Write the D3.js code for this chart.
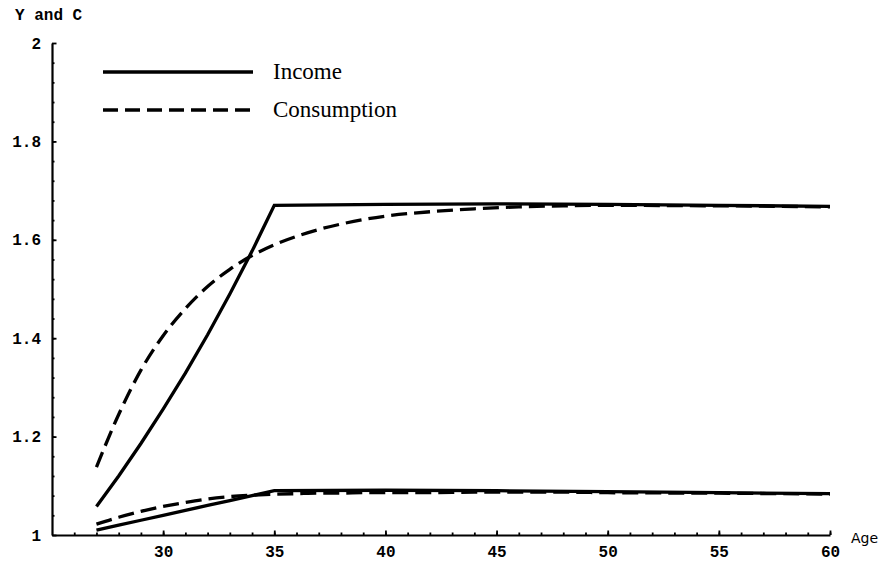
<!DOCTYPE html>
<html>
<head>
<meta charset="utf-8">
<script src="https://cdn.jsdelivr.net/npm/d3@7"></script>
<style>
	body { margin: 0; background: #fff; }
	svg { display: block; }
</style>
</head>
<body>
<div id="chart"></div>
<script>
// ages and values (two households: high and low income)
const incomeAges = [27, 28, 29, 30, 31, 32, 33, 34, 35, 40, 45, 50, 55, 60];
const incomeHigh = [1.058, 1.12, 1.186, 1.256, 1.329, 1.407, 1.49, 1.577, 1.67, 1.672, 1.673, 1.672, 1.67, 1.668];
const incomeLow = [1.01, 1.02, 1.03, 1.04, 1.05, 1.06, 1.07, 1.08, 1.09, 1.091, 1.09, 1.088, 1.086, 1.084];

const consAges = [27, 28, 29, 30, 31, 32, 33, 34, 35, 36, 37, 38, 39, 40, 42, 44, 46, 48, 50, 55, 60];
const consHigh = [1.138, 1.245, 1.335, 1.405, 1.46, 1.505, 1.54, 1.568, 1.59, 1.607, 1.621, 1.632, 1.641, 1.648, 1.657, 1.663, 1.667, 1.669, 1.67, 1.669, 1.667];
const consLow = [1.022, 1.036, 1.048, 1.058, 1.066, 1.073, 1.078, 1.081, 1.083, 1.084, 1.085, 1.085, 1.086, 1.086, 1.086, 1.087, 1.087, 1.087, 1.086, 1.085, 1.083];

const xMajor = [30, 35, 40, 45, 50, 55, 60];
const yMajor = [1, 1.2, 1.4, 1.6, 1.8, 2];
const yLabels = ["1", "1.2", "1.4", "1.6", "1.8", "2"];

const legendNames = ["Income", "Consumption"];

const width = 888;
const height = 562;

const svg = d3
	.select("#chart")
	.append("svg")
	.attr("width", width)
	.attr("height", height);

const x = d3.scaleLinear().domain([25, 60]).range([52, 830]);
const y = d3.scaleLinear().domain([1, 2]).range([535, 43]);

const monoFont = "'Liberation Mono', 'DejaVu Sans Mono', monospace";

// minor ticks first, then major ticks with labels (ticks point inward)
svg.append("g")
	.attr("transform", "translate(0," + y(1) + ")")
	.call(d3.axisBottom(x).tickValues(d3.range(26, 61)).tickSizeInner(-2.5).tickSizeOuter(0).tickFormat(""))
	.call((g) => g.select(".domain").remove());

svg.append("g")
	.attr("transform", "translate(" + x(25) + ",0)")
	.call(d3.axisLeft(y).tickValues(d3.range(1.04, 2, 0.04)).tickSizeInner(-2.5).tickSizeOuter(0).tickFormat(""))
	.call((g) => g.select(".domain").remove());

const xAxis = svg
	.append("g")
	.attr("transform", "translate(0," + y(1) + ")")
	.call(d3.axisBottom(x).tickValues(xMajor).tickSizeInner(-4.5).tickSizeOuter(0).tickPadding(11));

const yAxis = svg
	.append("g")
	.attr("transform", "translate(" + x(25) + ",0)")
	.call(
		d3.axisLeft(y)
			.tickValues(yMajor)
			.tickSizeInner(-4.5)
			.tickSizeOuter(0)
			.tickPadding(11)
			.tickFormat((d, i) => yLabels[i])
	);

svg.selectAll(".domain").attr("stroke-width", 2.2);
svg.selectAll(".tick line").attr("stroke-width", 1.8);
svg.selectAll(".tick text")
	.style("font-family", monoFont)
	.style("font-size", "16px")
	.style("font-weight", "bold")
	.attr("fill", "#000");

// axis titles
svg.append("text")
	.attr("x", 15)
	.attr("y", 20)
	.style("font-family", monoFont)
	.style("font-size", "16px")
	.style("font-weight", "bold")
	.text("Y and C");

svg.append("text")
	.attr("x", 851)
	.attr("y", 543)
	.style("font-family", "'DejaVu Sans', sans-serif")
	.style("font-size", "14px")
	.text("Age");

// the four curves
const solidLine = d3.line().x((d) => x(d[0])).y((d) => y(d[1]));
const dashLine = d3.line().x((d) => x(d[0])).y((d) => y(d[1])).curve(d3.curveMonotoneX);

const curves = [
	{ path: solidLine(d3.zip(incomeAges, incomeHigh)), dash: null },
	{ path: solidLine(d3.zip(incomeAges, incomeLow)), dash: null },
	{ path: dashLine(d3.zip(consAges, consHigh)), dash: "16,7" },
	{ path: dashLine(d3.zip(consAges, consLow)), dash: "16,7" },
];

svg.selectAll(".curve")
	.data(curves)
	.enter()
	.append("path")
	.attr("class", "curve")
	.attr("d", (d) => d.path)
	.attr("fill", "none")
	.attr("stroke", "#000")
	.attr("stroke-width", 3.3)
	.attr("stroke-dasharray", (d) => d.dash);

// legend
const legend = svg.append("g").attr("transform", "translate(103, 72)");

legend
	.selectAll("line")
	.data(legendNames)
	.enter()
	.append("line")
	.attr("x1", 0)
	.attr("x2", 150)
	.attr("y1", (d, i) => i * 38)
	.attr("y2", (d, i) => i * 38)
	.attr("stroke", "#000")
	.attr("stroke-width", 3.3)
	.attr("stroke-dasharray", (d, i) => (i === 1 ? "15,7" : null));

legend
	.selectAll("text")
	.data(legendNames)
	.enter()
	.append("text")
	.attr("x", 170)
	.attr("y", (d, i) => i * 38 + 7)
	.style("font-family", "'Liberation Serif', 'DejaVu Serif', serif")
	.style("font-size", "23px")
	.text((d) => d);
</script>
</body>
</html>
